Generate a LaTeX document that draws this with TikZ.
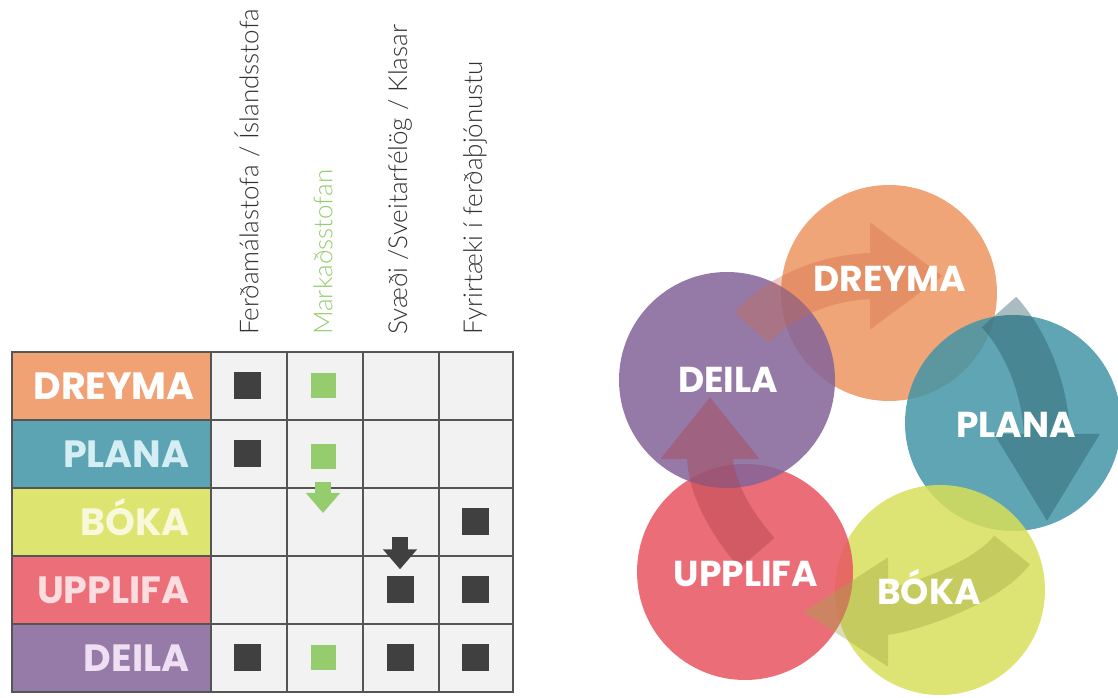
\documentclass[tikz,border=0pt]{standalone}
\usepackage{fontspec}
\newfontfamily\popfont{Poppins}
\newfontfamily\headfont{Lato Light}
\usepackage{tikz}
\usetikzlibrary{positioning, arrows.meta}
\definecolor{cOrange}{RGB}{240,162,116}
\definecolor{cTeal}{RGB}{92,164,180}
\definecolor{cYellow}{RGB}{222,228,112}
\definecolor{cRed}{RGB}{236,110,120}
\definecolor{cPurple}{RGB}{150,122,168}
\definecolor{cOrangeC}{RGB}{237,149,96}
\definecolor{cTealC}{RGB}{67,149,167}
\definecolor{cYellowC}{RGB}{216,223,90}
\definecolor{cRedC}{RGB}{231,84,96}
\definecolor{cPurpleC}{RGB}{131,99,153}
\definecolor{cTealText}{RGB}{213,238,243}
\definecolor{cYellowText}{RGB}{248,248,218}
\definecolor{cRedText}{RGB}{251,221,224}
\definecolor{cPurpleText}{RGB}{238,223,243}
\definecolor{cCell}{RGB}{242,242,242}
\definecolor{cGrid}{RGB}{85,85,85}
\definecolor{cMark}{RGB}{64,64,64}
\definecolor{cGreen}{RGB}{148,204,110}
\definecolor{cHead}{RGB}{50,50,50}
\definecolor{cArrowA}{RGB}{206,105,70}
\tikzset{
    x=1pt, y=1pt, % one unit is one pixel of the layout
    styleGrid/.style={draw=cGrid, line width=1.5pt}, % lines of the table
    styleDown/.style={line width=16pt, -{Triangle[width=33pt, length=20pt]}}, % small arrows in the table
}

\begin{document}
\begin{tikzpicture}[
                    styleLabel/.style={minimum width=199pt, minimum height=68pt, inner xsep=0pt, inner ysep=0pt,
                        text width=156pt, align=right, text height=27pt, text depth=0pt,
                        font=\popfont\bfseries\fontsize{38}{38}\selectfont},
                    styleHead/.style={rotate=90, anchor=west, inner sep=0pt, text=cHead,
                        font=\headfont\fontsize{26}{26}\selectfont},
                    styleDark/.style={fill=cMark, minimum size=27pt, inner sep=0pt},
                    styleGreen/.style={fill=cGreen, minimum size=25pt, inner sep=0pt},
                    styleCircle/.style={circle, minimum size=216pt, inner sep=0pt, fill opacity=0.85},
                    styleWord/.style={anchor=base, text=white, font=\popfont\bfseries\fontsize{36}{36}\selectfont},
                    styleBig/.style={line width=46pt},
                    node distance=68pt,
                ]
                \useasboundingbox (0,0) rectangle (1118,698);

                % table
                \node[styleLabel, fill=cOrange, text=white] (lDreyma) at (111.5,312) {DREYMA};
                \node[styleLabel, fill=cTeal, text=cTealText, below of=lDreyma] (lPlana) {PLANA};
                \node[styleLabel, fill=cYellow, text=cYellowText, below of=lPlana] (lBoka) {BÓKA};
                \node[styleLabel, fill=cRed, text=cRedText, below of=lBoka] (lUpplifa) {UPPLIFA};
                \node[styleLabel, fill=cPurple, text=cPurpleText, below of=lUpplifa] (lDeila) {DEILA};
                \fill[cCell] (lDreyma.north east) rectangle (513,6);
                \draw[styleGrid]
                (lDreyma.north west) rectangle (513,6)
                (lDreyma.south west) -- +(501,0)
                (lPlana.south west) -- +(501,0)
                (lBoka.south west) -- +(501,0)
                (lUpplifa.south west) -- +(501,0)
                (lDreyma.north east) -- (lDeila.south east)
                (287,346) -- (287,6)
                (363,346) -- (363,6)
                (439,346) -- (439,6);

                \node[styleHead] (hFerd) at (247,363) {Ferðamálastofa / Íslandsstofa};
                \node[styleHead, text=cGreen] (hMark) at (323,363) {Markaðsstofan};
                \node[styleHead] (hSvaedi) at (400,363) {Svæði /Sveitarfélög / Klasar};
                \node[styleHead] (hFyrir) at (475,363) {Fyrirtæki í ferðaþjónustu};

                \node[styleDark] (m11) at (lDreyma -| hFerd) {};
                \node[styleGreen] (m12) at (lDreyma -| hMark) {};
                \node[styleDark] (m21) at (lPlana -| hFerd) {};
                \node[styleGreen, yshift=-3pt] (m22) at (lPlana -| hMark) {};
                \node[styleDark] (m34) at (lBoka -| hFyrir) {};
                \node[styleDark] (m43) at (lUpplifa -| hSvaedi) {};
                \node[styleDark] (m44) at (lUpplifa -| hFyrir) {};
                \node[styleDark] (m51) at (lDeila -| hFerd) {};
                \node[styleGreen] (m52) at (lDeila -| hMark) {};
                \node[styleDark] (m53) at (lDeila -| hSvaedi) {};
                \node[styleDark] (m54) at (lDeila -| hFyrir) {};

                \coordinate (gTip) at (m22 |- 0,185);
                \coordinate (kStart) at (m43 |- 0,161);
                \draw[styleDown, cGreen] ([yshift=-12pt]m22.south) -- (gTip);
                \draw[styleDown, cMark] (kStart) -- ([yshift=7pt]m43.north);

                % cycle
                \node[styleCircle, fill=cOrangeC] (cDreyma) at (889,405) {};
                \node[styleCircle, fill=cTealC] (cPlana) at (1013,275) {};
                \node[styleCircle, fill=cYellowC, minimum size=210pt] (cBoka) at (940,108) {};
                \node[styleCircle, fill=cRedC] (cUpplifa) at (745,126) {};
                \node[styleCircle, fill=cPurpleC] (cDeila) at (727,318) {};

                \coordinate (a1s) at (752,370);
                \coordinate (a1e) at (943,422);
                \coordinate (a2s) at (999,386);
                \coordinate (a2e) at (1047,176);
                \coordinate (a3s) at (1012,148);
                \coordinate (a3e) at (803,86);
                \coordinate (a4s) at (757,145);
                \coordinate (a4e) at (710,301);
                \begin{scope}[transparency group, opacity=0.35]
                    \draw[styleBig, draw=cArrowA, -{Triangle[width=102pt, length=73pt]}]
                    (a1s) .. controls (778,402) and (830,422) .. (a1e);
                \end{scope}
                \begin{scope}[transparency group, opacity=0.4]
                    \draw[styleBig, draw=cTealC!60!black, -{Triangle[width=99pt, length=88pt]}]
                    (a2s) .. controls (1030,352) and (1047,300) .. (a2e);
                \end{scope}
                \begin{scope}[transparency group, opacity=0.4]
                    \draw[styleBig, draw=cYellowC!75!black, -{Triangle[width=103pt, length=85pt]}]
                    (a3s) .. controls (985,112) and (900,86) .. (a3e);
                \end{scope}
                \begin{scope}[transparency group, opacity=0.4]
                    \draw[styleBig, draw=cRedC!75!black, -{Triangle[width=95pt, length=62pt]}]
                    (a4s) .. controls (722,185) and (710,220) .. (a4e);
                \end{scope}

                \node[styleWord] (tDreyma) at (890,406) {DREYMA};
                \node[styleWord] (tPlana) at (1016,260) {PLANA};
                \node[styleWord] (tBoka) at (929,93) {BÓKA};
                \node[styleWord] (tUpplifa) at (746,111) {UPPLIFA};
                \node[styleWord] (tDeila) at (728,305) {DEILA};
            \end{tikzpicture}
\end{document}
